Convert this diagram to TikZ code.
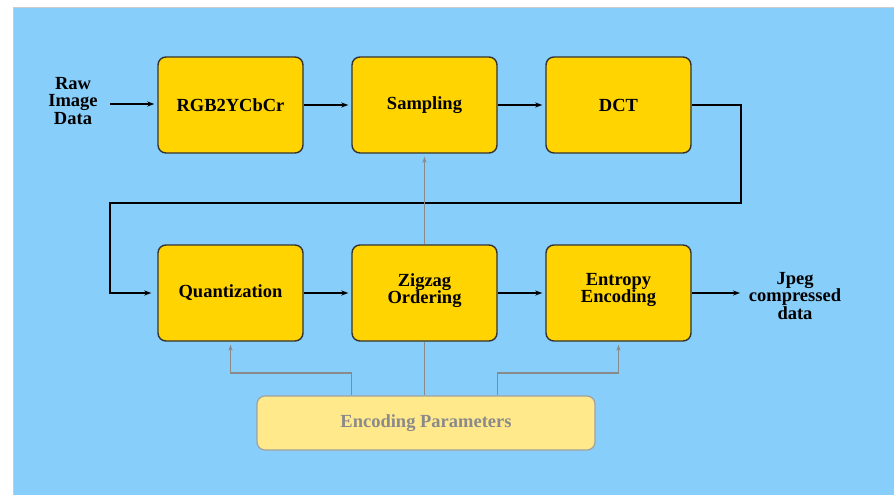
\documentclass[tikz,border=0pt]{standalone}
\usepackage{fontspec}
\setmainfont{Liberation Serif}
\usetikzlibrary{arrows.meta}
\definecolor{bgblue}{HTML}{87CEFA}
\definecolor{boxgold}{HTML}{FFD400}
\definecolor{encfill}{HTML}{FFE98A}
\definecolor{encgrey}{HTML}{8A8A8A}
\tikzset{
  blk/.style={draw=black!80, line width=1.4pt, fill=boxgold, rounded corners=8pt,
    minimum width=145pt, minimum height=96pt, align=center,
    font=\fontsize{18.5}{17.5}\selectfont\bfseries},
  lbl/.style={align=center, font=\fontsize{18.5}{17.5}\selectfont\bfseries, inner sep=0pt},
  encbox/.style={draw=encgrey!80, line width=1.2pt, fill=encfill, rounded corners=8pt,
    minimum width=338pt, minimum height=54pt, text=encgrey,
    font=\fontsize{18.5}{17.5}\selectfont\bfseries},
  arr/.style={line width=1.4pt, -{Stealth[length=7pt,width=5pt]}},
  garr/.style={line width=1.3pt, draw=encgrey, -{Stealth[length=6pt,width=4pt]}},
  gline/.style={line width=1.3pt, draw=encgrey},
}
\begin{document}
\begin{tikzpicture}[x=1pt,y=-1pt]
\useasboundingbox (0,0) rectangle (894,495);
\fill[white] (0,0) rectangle (894,495);
\fill[bgblue] (13,8) rectangle (894,495);
\draw[gray!40, line width=1pt] (13,495) -- (13,8) -- (894,8);

\node[blk] (rgb)  at (230.5,105) {RGB2YCbCr};
\node[blk] (samp) at (424.5,105) {Sampling};
\node[blk] (dct)  at (618.5,105) {DCT};
\node[blk] (quant) at (230.5,293) {Quantization};
\node[blk, text depth=9pt] (zig)   at (424.5,293) {Zigzag\\Ordering};
\node[blk, text depth=10pt] (ent)   at (618.5,293) {Entropy\\Encoding};
\node[encbox] (enc) at (426,423) {Encoding Parameters};

\node[lbl] (raw) at (73,101) {Raw\\Image\\Data};
\node[lbl] (jpeg) at (795,296) {Jpeg\\compressed\\data};

\coordinate (rawout) at (110,104);
\coordinate (c1) at (741,203);
\coordinate (c2) at (110,203);
\coordinate (m) at (0,373);
\coordinate (jin) at (740,293);

\draw[arr, shorten >=3pt] (rawout) -- (rawout -| rgb.west);
\draw[arr, shorten >=3pt] (rgb) -- (samp);
\draw[arr, shorten >=3pt] (samp) -- (dct);
\draw[arr, shorten >=6pt] (dct.east) -- (dct.east -| c1) -- (c1) -- (c2) -- (c2 |- quant.west) -- (quant.west);
\draw[arr, shorten >=3pt] (quant) -- (zig);
\draw[arr, shorten >=3pt] (quant -| zig.east) -- (quant -| ent.west);
\draw[arr] (jin -| ent.east) -- (jin);

\draw[garr, shorten >=3pt] (zig.north) -- (samp.south);
\draw[gline] (enc.north -| zig) -- (zig.south);
\draw[garr, shorten >=3pt] (enc.north -| zig.west) -- (zig.west |- m) -- (quant.south |- m) -- (quant.south);
\draw[garr, shorten >=3pt] (enc.north -| zig.east) -- (zig.east |- m) -- (ent.south |- m) -- (ent.south);
\end{tikzpicture}
\end{document}
